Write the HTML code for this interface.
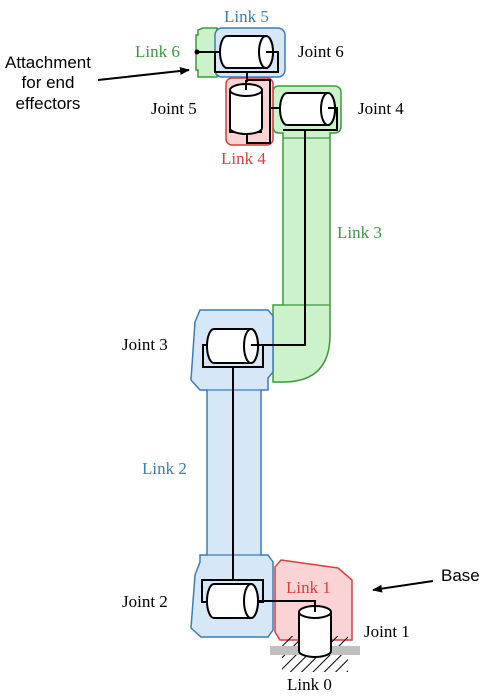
<!DOCTYPE html>
<html><head><meta charset="utf-8"><style>
html,body{margin:0;padding:0;background:#fff}
svg{display:block}
.s{font-family:"Liberation Serif",serif;font-size:17px}
.a{font-family:"Liberation Sans",sans-serif;font-size:17px}
</style></head><body>
<svg width="498" height="696" viewBox="0 0 498 696" xmlns="http://www.w3.org/2000/svg">
<defs>
<marker id="ah" markerWidth="10" markerHeight="8" refX="9" refY="4" orient="auto" markerUnits="userSpaceOnUse"><path d="M0,0 L10,4 L0,8 Z" fill="#000"/></marker>
<pattern id="hatch" width="8" height="8" patternUnits="userSpaceOnUse" patternTransform="rotate(45)"><line x1="0" y1="0" x2="0" y2="8" stroke="#000" stroke-width="2"/></pattern>
</defs>
<path d="M279,86 H334 Q341,86 341,93 V126 Q341,133 334,133 H330 V335 Q330,382 283,382 H273 V305 H283 V133 H279 Q273,133 273,126 V92 Q273,86 279,86 Z" fill="#ccf2cc" stroke="#3c9a3c" stroke-width="1.5"/>
<line x1="283" y1="305" x2="330" y2="305" stroke="#3c9a3c" stroke-width="1.2"/>
<line x1="283" y1="138" x2="330" y2="138" stroke="#3c9a3c" stroke-width="1.2"/>
<path d="M203,28 H217 V77 H198 V70 H196 V35 H198 V30 Z" fill="#ccf2cc" stroke="#3c9a3c" stroke-width="1.5"/>
<rect x="215" y="28" width="70" height="49" rx="7" fill="#d6e8f7" stroke="#3e7cb5" stroke-width="1.5"/>
<rect x="226" y="78" width="47" height="67" rx="6" fill="#fad4d4" stroke="#d64040" stroke-width="1.5"/>
<path d="M200,310 H268 L273,316 V372 L268,378 V390 H261 V555 H268 L273,562 V630 L268,637 H201 L191,628 L195,575 L200,562 V555 H207 V390 H200 L191,380 L195,322 Z" fill="#d6e8f7" stroke="#3e7cb5" stroke-width="1.5"/>
<line x1="207" y1="390" x2="261" y2="390" stroke="#3e7cb5" stroke-width="1.2"/>
<line x1="207" y1="555" x2="261" y2="555" stroke="#3e7cb5" stroke-width="1.2"/>
<path d="M281,560 L338,568 L352,580 V640 H280 L275,632 V567 Z" fill="#fad4d4" stroke="#d64040" stroke-width="1.5"/>
<rect x="282" y="636" width="66" height="36" fill="url(#hatch)"/>
<rect x="270" y="646" width="90" height="9" fill="#c0c0c0"/>
<g fill="none" stroke="#000" stroke-width="2">
<line x1="197" y1="52" x2="221" y2="52"/>
<path d="M215,52 V72 H278 V52 H266"/>
<line x1="247" y1="72" x2="247" y2="82"/>
<path d="M230,110 V132 H262"/>
<path d="M247,132 V143 H270 V80 H247"/>
<line x1="270" y1="108" x2="281" y2="108"/>
<path d="M329,108 H337 V130 H283"/>
<path d="M305,130 V345 H256"/>
<rect x="203" y="345" width="60" height="22"/>
<line x1="233" y1="367" x2="233" y2="580"/>
<rect x="202" y="580" width="61" height="22"/>
<path d="M257,601 H315 V612"/>
</g>
<g stroke="#000" stroke-width="2" fill="#fff">
<path d="M227,36 H266 A7,16 0 0 1 266,68 H227 A7,16 0 0 1 227,36 Z"/>
<ellipse cx="266" cy="52" rx="7" ry="16"/>
<path d="M230,90 V128 A16,6 0 0 0 262,128 V90"/>
<ellipse cx="246" cy="90" rx="16" ry="6"/>
<path d="M287,93 H328 A7,16 0 0 1 328,125 H287 A7,16 0 0 1 287,93 Z"/>
<ellipse cx="328" cy="109" rx="7" ry="16"/>
<path d="M214,329 H251 A7,17 0 0 1 251,363 H214 A7,17 0 0 1 214,329 Z"/>
<ellipse cx="251" cy="346" rx="7" ry="17"/>
<path d="M214,584 H251 A7,17 0 0 1 251,618 H214 A7,17 0 0 1 214,584 Z"/>
<ellipse cx="251" cy="601" rx="7" ry="17"/>
<path d="M299,612 V651 A16,6 0 0 0 331,651 V612"/>
<ellipse cx="315" cy="612" rx="16" ry="6"/>
</g>
<g fill="none" stroke="#000" stroke-width="2">
<line x1="266" y1="52" x2="278" y2="52"/>
<line x1="246" y1="80" x2="246" y2="90"/>
<line x1="328" y1="108" x2="337" y2="108"/>
<line x1="251" y1="345" x2="263" y2="345"/>
<line x1="315" y1="606" x2="315" y2="612"/>
</g>
<circle cx="197" cy="52" r="2.5" fill="#000"/>
<line x1="98" y1="80" x2="189" y2="70" stroke="#000" stroke-width="2" marker-end="url(#ah)"/>
<line x1="433" y1="581" x2="373" y2="590" stroke="#000" stroke-width="2" marker-end="url(#ah)"/>
<text class="s" x="224" y="22" fill="#3e7cb5">Link 5</text>
<text class="s" x="298" y="57">Joint 6</text>
<text class="s" x="135" y="57" fill="#3c9a3c">Link 6</text>
<text class="a" x="48" y="68" text-anchor="middle">Attachment</text>
<text class="a" x="48" y="88" text-anchor="middle">for end</text>
<text class="a" x="48" y="109" text-anchor="middle">effectors</text>
<text class="s" x="151" y="114">Joint 5</text>
<text class="s" x="358" y="114">Joint 4</text>
<text class="s" x="221" y="164" fill="#d64040">Link 4</text>
<text class="s" x="337" y="238" fill="#3c9a3c">Link 3</text>
<text class="s" x="122" y="350">Joint 3</text>
<text class="s" x="142" y="474" fill="#3e7cb5">Link 2</text>
<text class="s" x="122" y="607">Joint 2</text>
<text class="s" x="286" y="593" fill="#d64040">Link 1</text>
<text class="a" x="441" y="581">Base</text>
<text class="s" x="364" y="637">Joint 1</text>
<text class="s" x="287" y="690">Link 0</text>
</svg>
</body></html>
